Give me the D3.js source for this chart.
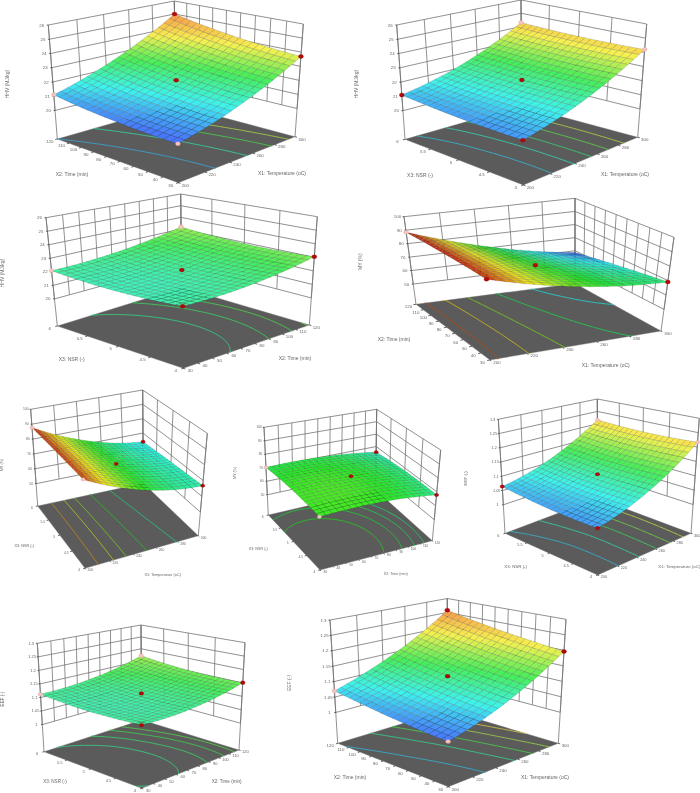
<!DOCTYPE html>
<html>
<head>
<meta charset="utf-8">
<script src="https://cdn.jsdelivr.net/npm/d3@7"></script>
<style>
  html, body { margin: 0; background: #fff; }
  svg { filter: blur(0.25px); display: block; }
  text { font-family: "Liberation Sans", Arial, sans-serif; fill: #666; }
</style>
</head>
<body>
<div id="chart"></div>
<script>
// axis ticks
const x1Ticks = [200, 220, 240, 260, 280, 300]
const x2Ticks = [30, 40, 50, 60, 70, 80, 90, 100, 110, 120]
const x3Ticks = [4, 4.5, 5, 5.5, 6]
const hhvTicks = [20, 21, 22, 23, 24, 25, 26]
const myTicks = [50, 60, 70, 80, 90, 100]
const eefTicks = [1, 1.05, 1.1, 1.15, 1.2, 1.25, 1.3]

// surfaces: rows along the first factor, columns along the second
const hhvTempTime = [
  [20.50, 20.53, 20.65, 20.83, 21.10],
  [21.03, 21.11, 21.27, 21.50, 21.81],
  [21.75, 21.87, 22.07, 22.35, 22.70],
  [22.63, 22.80, 23.05, 23.36, 23.76],
  [23.70, 23.91, 24.20, 24.56, 25.00]
]
const hhvTempNsr = [
  [20.80, 20.80, 20.85, 20.95, 21.10],
  [21.35, 21.34, 21.38, 21.46, 21.60],
  [22.10, 22.08, 22.10, 22.18, 22.30],
  [23.05, 23.01, 23.03, 23.09, 23.20],
  [24.20, 24.15, 24.15, 24.20, 24.30]
]
const hhvTimeNsr = [
  [22.09, 21.94, 21.89, 21.94, 22.09],
  [22.10, 21.96, 21.92, 21.98, 22.14],
  [22.26, 22.13, 22.10, 22.17, 22.34],
  [22.57, 22.45, 22.43, 22.51, 22.69],
  [23.04, 22.92, 22.91, 23.00, 23.19]
]
const myTempTime = [
  [87.50, 88.13, 88.50, 88.63, 88.50],
  [79.86, 79.78, 79.45, 78.87, 78.04],
  [74.23, 73.44, 72.40, 71.11, 69.58],
  [70.59, 69.09, 67.35, 65.36, 63.11],
  [68.95, 66.75, 64.30, 61.60, 58.65]
]
const myTempNsr = [
  [86.78, 87.15, 87.43, 87.60, 87.68],
  [78.40, 78.55, 78.59, 78.53, 78.38],
  [72.28, 72.19, 72.00, 71.71, 71.33],
  [68.40, 68.08, 67.66, 67.14, 66.52],
  [66.78, 66.23, 65.58, 64.83, 63.98]
]
const myTimeNsr = [
  [72.60, 72.96, 72.68, 71.76, 70.20],
  [73.05, 73.41, 73.14, 72.23, 70.68],
  [72.40, 72.77, 72.50, 71.59, 70.05],
  [70.65, 71.02, 70.76, 69.86, 68.32],
  [67.80, 68.18, 67.93, 67.03, 65.50]
]
const eefTempNsr = [
  [1.048, 1.047, 1.050, 1.056, 1.064],
  [1.072, 1.071, 1.072, 1.077, 1.084],
  [1.108, 1.106, 1.106, 1.110, 1.116],
  [1.156, 1.153, 1.152, 1.155, 1.160],
  [1.217, 1.212, 1.210, 1.212, 1.216]
]
const eefTimeNsr = [
  [1.114, 1.108, 1.105, 1.107, 1.112],
  [1.111, 1.106, 1.105, 1.108, 1.115],
  [1.117, 1.113, 1.113, 1.117, 1.126],
  [1.130, 1.127, 1.129, 1.135, 1.144],
  [1.151, 1.150, 1.153, 1.160, 1.171]
]
const eefTempTime = [
  [1.032, 1.038, 1.047, 1.058, 1.070],
  [1.059, 1.067, 1.078, 1.090, 1.104],
  [1.096, 1.106, 1.117, 1.131, 1.146],
  [1.142, 1.153, 1.166, 1.181, 1.197],
  [1.196, 1.209, 1.223, 1.239, 1.258]
]

// contour levels drawn on the floor
const hhvTempTimeLevels = [21.1, 21.9, 22.7, 23.4]
const hhvTempNsrLevels = [21.25, 21.75, 22.25, 22.85, 23.5]
const hhvTimeNsrLevels = [22.15, 22.45, 22.75, 23]
const myTempTimeLevels = [64, 70, 76, 81, 86]
const myTempNsrLevels = [68, 72, 76, 79, 83]
const myTimeNsrLevels = [68.8, 69.8, 70.9, 72.1]
const eefTempNsrLevels = [1.067, 1.095, 1.128, 1.158, 1.193]
const eefTimeNsrLevels = [1.1125, 1.124, 1.136, 1.146]
const eefTempTimeLevels = [1.066, 1.108, 1.14, 1.175, 1.21]

// design points: first factor, second factor, response, 1 when it sits above the surface
const hhvTempTimePts = [[300, 120, 25, 1], [300, 30, 23.7, 1], [250, 75, 22.07, 1], [200, 120, 21.1, 0], [200, 30, 20.5, 0]]
const hhvTempNsrPts = [[300, 6, 24.3, 0], [300, 4, 24.2, 0], [250, 5, 22.1, 1], [200, 6, 21.1, 1], [200, 4, 20.8, 1]]
const hhvTimeNsrPts = [[120, 6, 23.19, 0], [120, 4, 23.04, 1], [75, 5, 22.1, 1], [30, 6, 22.09, 0], [30, 4, 22.09, 1]]
const myTempTimePts = [[300, 30, 68.95, 1], [250, 75, 72.4, 1], [200, 120, 88.5, 0], [200, 30, 87.5, 1]]
const myTempNsrPts = [[300, 6, 63.98, 1], [300, 4, 66.78, 1], [250, 5, 72, 1], [200, 6, 87.68, 0], [200, 4, 86.78, 0]]
const myTimeNsrPts = [[120, 6, 65.5, 1], [120, 4, 67.8, 1], [75, 5, 72.5, 1], [30, 6, 70.2, 0], [30, 4, 72.6, 0]]
const eefTempNsrPts = [[300, 6, 1.216, 0], [300, 4, 1.217, 0], [250, 5, 1.106, 1], [200, 6, 1.064, 1], [200, 4, 1.048, 1]]
const eefTimeNsrPts = [[120, 6, 1.171, 0], [120, 4, 1.151, 1], [75, 5, 1.113, 1], [30, 6, 1.112, 0], [30, 4, 1.114, 1]]
const eefTempTimePts = [[300, 120, 1.258, 1], [300, 30, 1.196, 1], [250, 75, 1.117, 1], [200, 120, 1.07, 0], [200, 30, 1.032, 0]]

const width = 700
const height = 793
const cells = 20
const colorRange = ['#4c56ff', '#3ef2ee', '#46ee5a', '#f6f050', '#f66448']

const x1Title = 'X1: Temperature (oC)'
const x2Title = 'X2: Time (min)'
const x3Title = 'X3: NSR (-)'

const hhvAxis = {title: 'HHV (MJ/kg)', ticks: hhvTicks, floor: 18, stops: [20.3, 21.5, 22.6, 23.8, 25.6], range: colorRange}
const myAxis = {title: 'MY (%)', ticks: myTicks, floor: 35, stops: [58, 64, 72, 80, 89], range: ['#3c46ff', '#2cf2f2', '#26e826', '#f0ee20', '#c80a0a']}
const eefAxis = {title: 'EEF (-)', ticks: eefTicks, floor: 0.9, stops: [1.02, 1.08, 1.135, 1.2, 1.29], range: colorRange}

// F/L/R/B are the floor corners, t* the same corners at the top of the box
const panels = [
  {values: hhvTempTime, levels: hhvTempTimeLevels, pts: hhvTempTimePts, z: hhvAxis, xTicks: x1Ticks, yTicks: x2Ticks, xTitle: x1Title, yTitle: x2Title,
    F: [178.3, 182.7], L: [57.3, 139], R: [295, 136.7], B: [176, 105], tF: [177, 58], tL: [48.3, 25], tR: [303.3, 24], tB: [174.3, 1],
    xLab: [282, 174.7], yLab: [72, 175.7], zLab: [8.5, 84], font: 5},
  {values: hhvTempNsr, levels: hhvTempNsrLevels, pts: hhvTempNsrPts, z: hhvAxis, xTicks: x1Ticks, yTicks: x3Ticks, xTitle: x1Title, yTitle: x3Title,
    F: [523.3, 185], L: [405, 139.3], R: [637.7, 137.3], B: [521.7, 106], tF: [522, 57], tL: [396.7, 25], tR: [646.7, 24], tB: [521, 0],
    xLab: [625, 175.7], yLab: [420, 176.7], zLab: [357.5, 84], font: 5},
  {values: hhvTimeNsr, levels: hhvTimeNsrLevels, pts: hhvTimeNsrPts, z: hhvAxis, xTicks: x2Ticks, yTicks: x3Ticks, xTitle: x2Title, yTitle: x3Title,
    F: [183.3, 368.3], L: [57.3, 326], R: [309.3, 325], B: [181.7, 287.5], tF: [182, 247], tL: [46, 217.7], tR: [317.3, 216.7], tB: [180.7, 194],
    xLab: [295, 360], yLab: [71.7, 361], zLab: [4, 273], font: 5},
  {values: myTempTime, levels: myTempTimeLevels, pts: myTempTimePts, z: myAxis, xTicks: x1Ticks, yTicks: x2Ticks, xTitle: x1Title, yTitle: x2Title,
    F: [490, 360], L: [416, 304.3], R: [661, 331], B: [575, 283.5], tF: [485.7, 260], tL: [404, 216.7], tR: [674, 237.3], tB: [575, 198.3],
    xLab: [605.7, 367], yLab: [394, 341], zLab: [361.7, 261.7], font: 5},
  {values: myTempNsr, levels: myTempNsrLevels, pts: myTempNsrPts, z: myAxis, xTicks: x1Ticks, yTicks: x3Ticks, xTitle: x1Title, yTitle: x3Title,
    F: [85, 568.3], L: [37.7, 506], R: [198.3, 535.7], B: [143.3, 483.3], tF: [82.7, 456.7], tL: [30.7, 409.3], tR: [207.3, 433.3], tB: [142.7, 390],
    xLab: [162.7, 575.7], yLab: [24.3, 547.3], zLab: [3.3, 465], font: 3.8},
  {values: myTimeNsr, levels: myTimeNsrLevels, pts: myTimeNsrPts, z: myAxis, xTicks: x2Ticks, yTicks: x3Ticks, xTitle: x2Title, yTitle: x3Title,
    F: [320, 570], L: [268.3, 515], R: [432.3, 540.7], B: [375.7, 490], tF: [319, 478], tL: [264, 427.3], tR: [440.7, 450], tB: [376.7, 409.3],
    xLab: [395.7, 575], yLab: [258.3, 550], zLab: [236, 473], font: 3.7},
  {values: eefTempNsr, levels: eefTempNsrLevels, pts: eefTempNsrPts, z: eefAxis, xTicks: x1Ticks, yTicks: x3Ticks, xTitle: x1Title, yTitle: x3Title,
    F: [597.7, 575], L: [505, 533.3], R: [691, 533.3], B: [597.7, 498.3], tF: [597.3, 448.3], tL: [498.3, 419.3], tR: [699.3, 418.3], tB: [597.3, 399],
    xLab: [679.3, 567.7], yLab: [515.7, 567.7], zLab: [466.7, 478.3], font: 4.4},
  {values: eefTimeNsr, levels: eefTimeNsrLevels, pts: eefTimeNsrPts, z: eefAxis, xTicks: x2Ticks, yTicks: x3Ticks, xTitle: x2Title, yTitle: x3Title,
    F: [141.7, 788.3], L: [44, 751.7], R: [239, 750], B: [141.7, 720], tF: [141.3, 670], tL: [37.3, 643.3], tR: [245, 642.7], tB: [141, 625],
    xLab: [226.7, 782.7], yLab: [55, 782.7], zLab: [4, 699], font: 4.6},
  {values: eefTempTime, levels: eefTempTimeLevels, pts: eefTempTimePts, z: eefAxis, xTicks: x1Ticks, yTicks: x2Ticks, xTitle: x1Title, yTitle: x2Title,
    F: [448.3, 786.7], L: [337.7, 743.3], R: [558.3, 743.3], B: [447.3, 710], tF: [447.7, 650], tL: [330, 620], tR: [566, 619.3], tB: [447.3, 598.5],
    xLab: [545, 779.3], yLab: [350, 779.3], zLab: [291, 683], font: 5}
]

const svg = d3.select('#chart').append('svg')
  .attr('width', width)
  .attr('height', height)
  .attr('viewBox', `0 0 ${width} ${height}`)

panels.forEach(drawPanel)

// maps the unit square on a four sided figure, so the floor keeps its perspective
function quadMap (p00, p10, p01, p11) {
  const dx1 = p10[0] - p11[0]
  const dx2 = p01[0] - p11[0]
  const dy1 = p10[1] - p11[1]
  const dy2 = p01[1] - p11[1]
  const sx = p00[0] - p10[0] + p11[0] - p01[0]
  const sy = p00[1] - p10[1] + p11[1] - p01[1]
  const den = dx1 * dy2 - dx2 * dy1
  const g = (sx * dy2 - dx2 * sy) / den
  const h = (dx1 * sy - sx * dy1) / den
  const a = p10[0] - p00[0] + g * p10[0]
  const b = p01[0] - p00[0] + h * p01[0]
  const d = p10[1] - p00[1] + g * p10[1]
  const e = p01[1] - p00[1] + h * p01[1]
  return (u, v) => {
    const w = g * u + h * v + 1
    return [(a * u + b * v + p00[0]) / w, (d * u + e * v + p00[1]) / w]
  }
}

// smooth drawing between the read samples, same job as a curve interpolator on a line
function spline (arr, t) {
  const n = arr.length - 1
  const i = Math.min(Math.floor(t), n - 1)
  const s = t - i
  const at = k => k < 0 ? 3 * arr[0] - 3 * arr[1] + arr[2]
    : k > n ? 3 * arr[n] - 3 * arr[n - 1] + arr[n - 2] : arr[k]
  const p0 = at(i - 1), p1 = at(i), p2 = at(i + 1), p3 = at(i + 2)
  return 0.5 * (2 * p1 + (p2 - p0) * s + (2 * p0 - 5 * p1 + 4 * p2 - p3) * s * s + (3 * p1 - p0 - 3 * p2 + p3) * s * s * s)
}

function surfaceAt (values, a, b) {
  const t = a * (values.length - 1)
  const col = values.map(row => spline(row, b * (row.length - 1)))
  return spline(col, t)
}

function drawPanel (p) {
  const g = svg.append('g')
  const xs = d3.scaleLinear().domain(d3.extent(p.xTicks)).range([0, 1])
  const ys = d3.scaleLinear().domain(d3.extent(p.yTicks)).range([0, 1])
  const zs = d3.scaleLinear().domain([p.z.floor, d3.max(p.z.ticks)]).range([0, 1])
  const color = d3.scaleLinear().domain(p.z.stops).range(p.z.range).clamp(true)

  const low = quadMap(p.F, p.R, p.L, p.B)
  const top = quadMap(p.tF, p.tR, p.tL, p.tB)
  const uvw = (u, v, w) => {
    const a = low(u, v)
    const b = top(u, v)
    return [a[0] + (b[0] - a[0]) * w, a[1] + (b[1] - a[1]) * w]
  }
  const project = (x, y, z) => uvw(xs(x), ys(y), zs(z))
  const line = d3.line()

  const xMin = xs.domain()[0], xMax = xs.domain()[1]
  const yMin = ys.domain()[0], yMax = ys.domain()[1]
  const zMin = d3.min(p.z.ticks), zMax = d3.max(p.z.ticks)
  const k = p.font / 5

  // walls
  const wall = g.append('g')
    .attr('fill', 'none')
    .attr('stroke', '#757575')
    .attr('stroke-width', 0.8)
  p.xTicks.forEach(t => wall.append('path').attr('d', line([project(t, yMax, zMin), project(t, yMax, zMax)])))
  p.yTicks.forEach(t => wall.append('path').attr('d', line([project(xMax, t, zMin), project(xMax, t, zMax)])))
  p.z.ticks.forEach(t => {
    wall.append('path').attr('d', line([project(xMin, yMax, t), project(xMax, yMax, t), project(xMax, yMin, t)]))
  })
  const corners = [[xMin, yMax], [xMax, yMax], [xMax, yMin]]
  corners.forEach(c => wall.append('path').attr('d', line([project(c[0], c[1], p.z.floor), project(c[0], c[1], zMax)])))

  // floor
  g.append('path')
    .attr('d', line([p.F, p.R, p.B, p.L]) + 'Z')
    .attr('fill', '#5b5b5b')
    .attr('stroke', '#777')
    .attr('stroke-width', 0.4)

  // contours on the floor
  const size = 81
  const grid = new Array(size * size)
  for (let j = 0; j < size; j++) {
    for (let i = 0; i < size; i++) {
      grid[j * size + i] = surfaceAt(p.values, i / (size - 1), j / (size - 1))
    }
  }
  const toFloor = pt => low(
    Math.max(0, Math.min(1, (pt[0] - 0.5) / (size - 1))),
    Math.max(0, Math.min(1, (pt[1] - 0.5) / (size - 1)))
  )
  const onEdge = (a, b) => (a[0] <= 0 && b[0] <= 0) || (a[0] >= size && b[0] >= size) ||
    (a[1] <= 0 && b[1] <= 0) || (a[1] >= size && b[1] >= size)
  d3.contours().size([size, size]).thresholds(p.levels)(grid).forEach(c => {
    const pieces = []
    c.coordinates.forEach(poly => poly.forEach(ring => {
      let cur = []
      ring.forEach((pt, n) => {
        if (n > 0 && onEdge(ring[n - 1], pt)) {
          if (cur.length > 1) pieces.push(cur)
          cur = []
        }
        cur.push(pt)
      })
      if (cur.length > 1) pieces.push(cur)
    }))
    g.append('path')
      .attr('d', pieces.map(s => line(s.map(toFloor))).join(''))
      .attr('fill', 'none')
      .attr('stroke', d3.color(color(c.value)).darker(0.45))
      .attr('stroke-width', 0.9)
  })

  // axis ticks and labels
  const ticks = g.append('g').attr('stroke', '#000').attr('stroke-width', 0.6)
  const labels = g.append('g').attr('font-size', p.font * 0.88).attr('text-anchor', 'middle')
  p.xTicks.forEach(t => {
    const q = uvw(xs(t), 0, 0)
    ticks.append('path').attr('d', line([q, uvw(xs(t), -0.015, 0)]))
    labels.append('text').attr('x', q[0] + 7 * k).attr('y', q[1] + 3.8 * k).text(t)
  })
  p.yTicks.forEach(t => {
    const q = uvw(0, ys(t), 0)
    ticks.append('path').attr('d', line([q, uvw(-0.015, ys(t), 0)]))
    labels.append('text').attr('x', q[0] - 7.5 * k).attr('y', q[1] + 3.8 * k).text(t)
  })
  p.z.ticks.forEach(t => {
    const q = project(xMin, yMax, t)
    ticks.append('path').attr('d', line([q, [q[0] - 1.5 * k, q[1]]]))
    labels.append('text').attr('x', q[0] - 6.5 * k).attr('y', q[1] + 1.5 * k).text(t)
  })
  const titles = g.append('g').attr('font-size', p.font).attr('text-anchor', 'middle')
  titles.append('text').attr('x', p.xLab[0]).attr('y', p.xLab[1]).text(p.xTitle)
  titles.append('text').attr('x', p.yLab[0]).attr('y', p.yLab[1]).text(p.yTitle)
  titles.append('text')
    .attr('transform', `translate(${p.zLab[0]},${p.zLab[1]}) rotate(-90)`)
    .text(p.z.title)

  // surface, back corner first
  const mesh = g.append('g').attr('stroke', 'rgba(20,30,30,0.42)').attr('stroke-width', 0.35)
  const node = (i, j) => {
    const a = i / cells
    const b = j / cells
    return uvw(a, b, zs(surfaceAt(p.values, a, b)))
  }
  for (let i = cells - 1; i >= 0; i--) {
    for (let j = cells - 1; j >= 0; j--) {
      const mid = surfaceAt(p.values, (i + 0.5) / cells, (j + 0.5) / cells)
      mesh.append('path')
        .attr('d', line([node(i, j), node(i + 1, j), node(i + 1, j + 1), node(i, j + 1)]) + 'Z')
        .attr('fill', color(mid))
    }
  }

  // design points
  g.append('g').selectAll('ellipse')
    .data(p.pts)
    .enter()
    .append('ellipse')
    .attr('cx', d => project(d[0], d[1], d[2])[0])
    .attr('cy', d => project(d[0], d[1], d[2])[1])
    .attr('rx', 2.5 * Math.max(k, 0.85))
    .attr('ry', 2 * Math.max(k, 0.85))
    .attr('fill', d => d[3] ? '#b40808' : '#f6c4c0')
    .attr('stroke', d => d[3] ? '#8a0505' : '#d09a96')
    .attr('stroke-width', 0.3)
}
</script>
</body>
</html>
